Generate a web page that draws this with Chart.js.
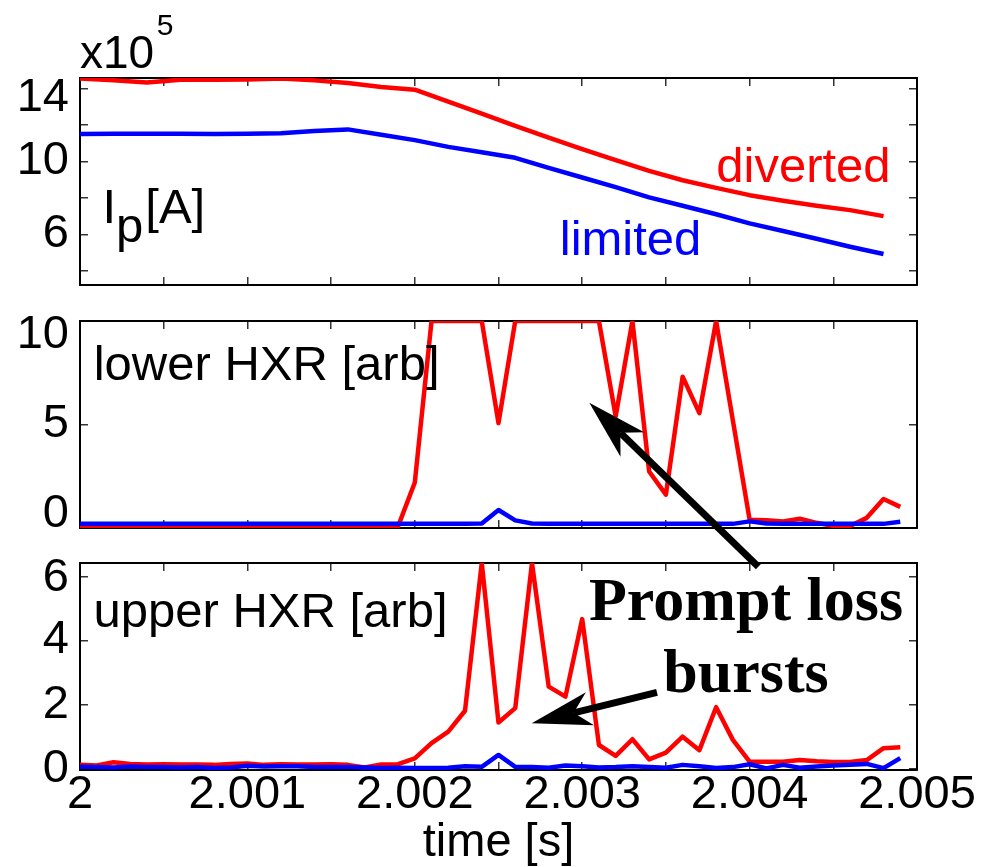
<!DOCTYPE html>
<html>
<head>
<meta charset="utf-8">
<title>Plasma current and HXR signals</title>
<script src="https://cdn.jsdelivr.net/npm/chart.js@4.4.1/dist/chart.umd.min.js"></script>
<style>
  html, body { margin: 0; padding: 0; background: #ffffff; }
  #fig { position: relative; width: 989px; height: 867px; overflow: hidden; }
  #fig canvas { position: absolute; left: 0; top: 0; pointer-events: none; }
</style>
</head>
<body>
<div id="fig">
  <canvas id="ipPanel" width="989" height="867"></canvas>
  <canvas id="lowerPanel" width="989" height="867"></canvas>
  <canvas id="upperPanel" width="989" height="867"></canvas>
</div>
<script>
// ---- time bases [s] ----
const ipTime = [2.0000, 2.0002, 2.0004, 2.0006, 2.0008, 2.0010, 2.0012, 2.0014, 2.0016, 2.0018,
                2.0020, 2.0022, 2.0024, 2.0026, 2.0028, 2.0030, 2.0032, 2.0034, 2.0036, 2.0038,
                2.0040, 2.0042, 2.0044, 2.0046, 2.0048];
const hxrTime = [2.0000, 2.0001, 2.0002, 2.0003, 2.0004, 2.0005, 2.0006, 2.0007, 2.0008, 2.0009,
                 2.0010, 2.0011, 2.0012, 2.0013, 2.0014, 2.0015, 2.0016, 2.0017, 2.0018, 2.0019,
                 2.0020, 2.0021, 2.0022, 2.0023, 2.0024, 2.0025, 2.0026, 2.0027, 2.0028, 2.0029,
                 2.0030, 2.0031, 2.0032, 2.0033, 2.0034, 2.0035, 2.0036, 2.0037, 2.0038, 2.0039,
                 2.0040, 2.0041, 2.0042, 2.0043, 2.0044, 2.0045, 2.0046, 2.0047, 2.0048, 2.0049];

// ---- plasma current I_p [A] ----
const ipDiverted = [1455000, 1445000, 1433000, 1449000, 1449000, 1450000, 1455000, 1445000, 1430000, 1409000,
                    1394000, 1328000, 1263000, 1195000, 1131000, 1067000, 1007000, 948000, 897000, 855000,
                    815000, 784000, 757000, 733000, 700000];
const ipLimited = [1150000, 1152000, 1152000, 1152000, 1151000, 1152000, 1155000, 1167000, 1176000, 1147000,
                   1117000, 1080000, 1051000, 1020000, 965000, 912000, 859000, 803000, 757000, 710000,
                   660000, 618000, 576000, 532000, 492000];

// ---- lower HXR [arb] (saturates at 10) ----
const lowerDiverted = [0.08, 0.08, 0.10, 0.08, 0.08, 0.07, 0.08, 0.08, 0.08, 0.07,
                       0.08, 0.08, 0.07, 0.08, 0.08, 0.08, 0.07, 0.08, 0.08, 0.08,
                       2.2, 10, 10, 10, 10, 5.07, 10, 10, 10, 10,
                       10, 10, 5.39, 10, 2.73, 1.61, 7.31, 5.55, 10, 5.2,
                       0.40, 0.37, 0.32, 0.45, 0.25, 0.10, 0.10, 0.49, 1.40, 1.02];
const lowerLimited = [0.20, 0.20, 0.20, 0.20, 0.20, 0.20, 0.20, 0.21, 0.20, 0.20,
                      0.20, 0.20, 0.20, 0.20, 0.20, 0.20, 0.20, 0.20, 0.20, 0.20,
                      0.20, 0.20, 0.20, 0.20, 0.22, 0.87, 0.37, 0.22, 0.20, 0.20,
                      0.20, 0.20, 0.20, 0.20, 0.20, 0.20, 0.20, 0.20, 0.20, 0.20,
                      0.32, 0.22, 0.20, 0.20, 0.20, 0.20, 0.20, 0.20, 0.20, 0.30];

// ---- upper HXR [arb] ----
const upperDiverted = [0.12, 0.10, 0.20, 0.15, 0.13, 0.14, 0.13, 0.13, 0.12, 0.15,
                       0.16, 0.12, 0.14, 0.13, 0.13, 0.14, 0.12, 0.04, 0.13, 0.14,
                       0.32, 0.80, 1.16, 1.81, 6.42, 1.44, 1.89, 6.42, 2.56, 2.25,
                       4.67, 0.74, 0.40, 0.92, 0.29, 0.50, 1.00, 0.58, 1.92, 0.90,
                       0.22, 0.22, 0.22, 0.27, 0.23, 0.21, 0.21, 0.27, 0.64, 0.67];
const upperLimited = [0.06, 0.05, 0.04, 0.07, 0.05, 0.05, 0.04, 0.05, 0.02, 0.04,
                      0.09, 0.07, 0.08, 0.08, 0.05, 0.05, 0.05, 0.04, 0.02, 0.03,
                      0.02, 0.02, 0.03, 0.08, 0.06, 0.43, 0.06, 0.05, 0.03, 0.10,
                      0.08, 0.04, 0.05, 0.08, 0.05, 0.03, 0.12, 0.08, 0.02, 0.05,
                      0.14, 0.01, 0.12, 0.03, 0.07, 0.10, 0.12, 0.15, 0.02, 0.33];

// ---- ticks and tick labels ----
const timeTickValues = [2.0000, 2.0005, 2.0010, 2.0015, 2.0020, 2.0025, 2.0030, 2.0035, 2.0040, 2.0045, 2.0050];
const timeTickLabels = ['2', '2.001', '2.002', '2.003', '2.004', '2.005'];
const ipTickValues = [400000, 600000, 800000, 1000000, 1200000, 1400000];
const ipTickLabels = ['6', '10', '14'];          // in units of 1e5 A
const lowerTickValues = [0, 5, 10];
const lowerTickLabels = ['0', '5', '10'];
const upperTickValues = [0, 2, 4, 6];
const upperTickLabels = ['0', '2', '4', '6'];
const timeAxisTitle = 'time [s]';

// ---- styling ----
const SANS = 'Liberation Sans';
const SERIF = 'Liberation Serif';
const RED = '#ff0000';
const BLUE = '#0000ff';
const TICK_SIZE = 47;
Chart.defaults.font.family = SANS;
Chart.defaults.color = '#000000';

const xMin = 2.0, xMax = 2.005;

function labelIn(list, v) {
  const s = String(Math.round(v * 1e6) / 1e6);
  return list.includes(s) ? s : '';
}

function series(times, values) {
  return times.map((t, i) => ({ x: t, y: values[i] }));
}

function line(label, times, values, color) {
  return {
    label, data: series(times, values),
    borderColor: color, backgroundColor: color,
    borderWidth: 4.5, pointRadius: 0, tension: 0,
    borderJoinStyle: 'round', borderCapStyle: 'butt', fill: false
  };
}

function fixedTicks(values) {
  return s => { s.ticks = values.map(v => ({ value: v })); };
}

// Tick label with an optional vertical nudge (px): an empty companion line
// pushes the label up or down by half of the chosen line height.
function shiftedLabel(text, shift) {
  if (!text || !shift) return text;
  return shift > 0 ? ['', text] : [text, ''];
}
function shiftedFont(shiftOf) {
  return ctx => {
    const shift = shiftOf(ctx.tick ? ctx.tick.value : null) || 0;
    return shift ? { family: SANS, size: TICK_SIZE, lineHeight: (2 * Math.abs(shift)) + 'px' }
                 : { family: SANS, size: TICK_SIZE };
  };
}

// Draws text runs (for sub/superscripts) and arrows on top of a panel.
function notesPlugin(notes) {
  return {
    id: 'figureNotes',
    afterDraw(chart) {
      const { ctx, chartArea } = chart;
      const xs = chart.scales.x, ys = chart.scales.y;
      ctx.save();
      (notes.arrows || []).forEach(a => {
        const tip = { x: xs.getPixelForValue(a.tip[0]), y: ys.getPixelForValue(a.tip[1]) };
        const tail = { x: xs.getPixelForValue(a.tail[0]), y: ys.getPixelForValue(a.tail[1]) };
        const dx = tail.x - tip.x, dy = tail.y - tip.y;
        const len = Math.hypot(dx, dy);
        const ux = dx / len, uy = dy / len, nx = -uy, ny = ux;
        const notch = a.headLength * 0.72;
        ctx.strokeStyle = '#000'; ctx.fillStyle = '#000';
        ctx.lineWidth = a.width; ctx.lineCap = 'butt';
        ctx.beginPath();
        ctx.moveTo(tail.x, tail.y);
        ctx.lineTo(tip.x + ux * notch, tip.y + uy * notch);
        ctx.stroke();
        ctx.beginPath();
        ctx.moveTo(tip.x, tip.y);
        ctx.lineTo(tip.x + ux * a.headLength + nx * a.headHalfWidth, tip.y + uy * a.headLength + ny * a.headHalfWidth);
        ctx.lineTo(tip.x + ux * notch, tip.y + uy * notch);
        ctx.lineTo(tip.x + ux * a.headLength - nx * a.headHalfWidth, tip.y + uy * a.headLength - ny * a.headHalfWidth);
        ctx.closePath();
        ctx.fill();
      });
      (notes.texts || []).forEach(t => {
        let x, y;
        if (t.area) { x = chartArea.left + t.area[0]; y = chartArea.top + t.area[1]; }
        else { x = xs.getPixelForValue(t.at[0]); y = ys.getPixelForValue(t.at[1]); }
        ctx.textAlign = 'left'; ctx.textBaseline = 'alphabetic';
        let total = 0;
        t.runs.forEach(r => { ctx.font = r.font; total += ctx.measureText(r.text).width + (r.dx || 0); });
        let cx = t.align === 'center' ? x - total / 2 : x;
        t.runs.forEach(r => {
          ctx.font = r.font; ctx.fillStyle = t.color;
          cx += (r.dx || 0);
          ctx.fillText(r.text, cx, y + (r.dy || 0));
          cx += ctx.measureText(r.text).width;
        });
      });
      ctx.restore();
    }
  };
}

function makePanel(canvasId, cfg) {
  const tickGrid = { display: true, drawOnChartArea: false, drawTicks: true, tickLength: -8, color: '#333333', lineWidth: 1.5 };
  const frame = { display: true, color: '#000000', width: 2 };
  const shiftOf = v => (v === null ? 0 : (cfg.yShift[labelIn(cfg.yLabels, cfg.yToLabel(v))] || 0));
  return new Chart(document.getElementById(canvasId), {
    type: 'line',
    data: { datasets: cfg.datasets },
    options: {
      responsive: false, animation: false, events: [], devicePixelRatio: 1,
      layout: { padding: cfg.padding },
      plugins: { legend: { display: false }, tooltip: { enabled: false } },
      scales: {
        x: {
          type: 'linear', position: 'bottom', min: xMin, max: xMax,
          afterBuildTicks: fixedTicks(timeTickValues),
          ticks: { display: cfg.showTime, autoSkip: false,
                   maxRotation: 0, minRotation: 0, padding: 5,
                   font: { family: SANS, size: TICK_SIZE }, color: '#000',
                   callback: v => labelIn(timeTickLabels, v) },
          grid: tickGrid, border: frame,
          title: { display: cfg.showTime, text: timeAxisTitle, color: '#000', padding: 0,
                   font: { family: SANS, size: TICK_SIZE, lineHeight: 1 } },
          afterFit: s => { s.height = cfg.xAxisHeight; }
        },
        xTop: {
          type: 'linear', axis: 'x', position: 'top', min: xMin, max: xMax,
          afterBuildTicks: fixedTicks(timeTickValues),
          ticks: { display: false },
          grid: tickGrid, border: frame,
          afterFit: s => { s.height = 0; }
        },
        y: {
          type: 'linear', position: 'left', min: cfg.yMin, max: cfg.yMax,
          afterBuildTicks: fixedTicks(cfg.yTicks),
          ticks: { autoSkip: false, padding: 19, font: shiftedFont(shiftOf), color: '#000',
                   callback: v => {
                     const s = labelIn(cfg.yLabels, cfg.yToLabel(v));
                     return shiftedLabel(s, cfg.yShift[s]);
                   } },
          grid: tickGrid, border: frame,
          afterFit: s => { s.width = 80; }
        },
        yRight: {
          type: 'linear', axis: 'y', position: 'right', min: cfg.yMin, max: cfg.yMax,
          afterBuildTicks: fixedTicks(cfg.yTicks),
          ticks: { display: false },
          grid: tickGrid, border: frame,
          afterFit: s => { s.width = 0; }
        }
      }
    },
    plugins: [notesPlugin(cfg.notes)]
  });
}

const labelFont = `49px "${SANS}"`;

// Plasma current
makePanel('ipPanel', {
  datasets: [line('limited', ipTime, ipLimited, BLUE), line('diverted', ipTime, ipDiverted, RED)],
  padding: { left: 0, right: 72, top: 78, bottom: 582 },
  xAxisHeight: 0, showTime: false,
  yMin: 322000, yMax: 1458000, yTicks: ipTickValues,
  yLabels: ipTickLabels, yToLabel: v => v / 1e5, yShift: { '14': 9 },
  notes: {
    texts: [
      { area: [0, -10], color: '#000', runs: [
        { text: 'x10', font: `46px "${SANS}"` },
        { text: '5', font: `30px "${SANS}"`, dx: 2.5, dy: -33 } ] },
      { at: [2.000134, 662000], color: '#000', runs: [
        { text: 'I', font: labelFont },
        { text: 'p', font: labelFont, dy: 19 },
        { text: '[A]', font: labelFont, dx: 2 } ] },
      { at: [2.003801, 887000], color: RED, runs: [{ text: 'diverted', font: labelFont }] },
      { at: [2.002866, 487000], color: BLUE, runs: [{ text: 'limited', font: labelFont }] }
    ]
  }
});

// Lower HXR
makePanel('lowerPanel', {
  datasets: [line('limited', hxrTime, lowerLimited, BLUE), line('diverted', hxrTime, lowerDiverted, RED)],
  padding: { left: 0, right: 72, top: 321, bottom: 339 },
  xAxisHeight: 0, showTime: false,
  yMin: 0, yMax: 10, yTicks: lowerTickValues,
  yLabels: lowerTickLabels, yToLabel: v => v, yShift: { '10': 14, '0': -14 },
  notes: {
    texts: [
      { at: [2.0000819, 7.15], color: '#000', runs: [{ text: 'lower HXR [arb]', font: labelFont }] }
    ],
    arrows: [
      { tip: [2.0030424, 6.05], tail: [2.004052, -1.87], headLength: 60, headHalfWidth: 17, width: 7 }
    ]
  }
});

// Upper HXR
makePanel('upperPanel', {
  datasets: [line('limited', hxrTime, upperLimited, BLUE), line('diverted', hxrTime, upperDiverted, RED)],
  padding: { left: 0, right: 72, top: 563, bottom: 0 },
  xAxisHeight: 97, showTime: true,
  yMin: -0.04, yMax: 6.42, yTicks: upperTickValues,
  yLabels: upperTickLabels, yToLabel: v => v, yShift: { '6': 2 },
  notes: {
    texts: [
      { at: [2.0000806, 4.43], color: '#000', runs: [{ text: 'upper HXR [arb]', font: labelFont }] },
      { at: [2.0039785, 4.64], align: 'center', color: '#000', runs: [{ text: 'Prompt loss', font: `bold 62px "${SERIF}"` }] },
      { at: [2.0039785, 2.39], align: 'center', color: '#000', runs: [{ text: 'bursts', font: `bold 62px "${SERIF}"` }] }
    ],
    arrows: [
      { tip: [2.0026984, 1.42], tail: [2.0034468, 2.385], headLength: 60, headHalfWidth: 17, width: 7 }
    ]
  }
});
</script>
</body>
</html>
